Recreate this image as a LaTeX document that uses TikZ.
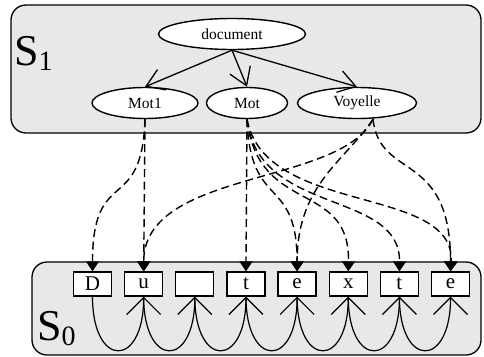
\documentclass[tikz,border=0pt]{standalone}
\usepackage{fontspec}
\setmainfont{Liberation Serif}
\usetikzlibrary{arrows.meta, shapes.geometric}
\definecolor{bg}{HTML}{E8E8E8}
\begin{document}
\begin{tikzpicture}[x=1pt,y=-1pt,
  grp/.style={draw=black, line width=1.3pt, fill=bg, rounded corners=15pt},
  ell/.style={ellipse, draw, line width=1.4pt, fill=white, minimum height=31pt, inner sep=0pt, font=\fontsize{15.5}{18}\selectfont},
  cell/.style={rectangle, draw, line width=1.3pt, fill=white, minimum width=38pt, minimum height=24pt, inner sep=0pt, font=\fontsize{21}{24}\selectfont},
  tree/.style={line width=1.3pt, -{Straight Barb[length=17pt,width=22pt,line width=1.3pt]}},
  link/.style={line width=1.4pt, dash pattern=on 8pt off 4.5pt, -{Triangle[length=10pt,width=13pt]}},
  nxt/.style={line width=1.2pt, -{Straight Barb[length=17pt,width=34pt,line width=1.2pt]}},
  lbl/.style={inner sep=0pt, anchor=base west}
]
\useasboundingbox (0,0) rectangle (484,356);
\draw[grp] (11,5) rectangle (481,133);
\draw[grp] (32,262) rectangle (481,355);

\node[lbl] (s1) at (14,65) {\fontsize{44}{44}\selectfont S\raisebox{-5pt}{\fontsize{28}{28}\selectfont 1}};
\node[lbl] (s0) at (37,340) {\fontsize{44}{44}\selectfont S\raisebox{-5pt}{\fontsize{28}{28}\selectfont 0}};

\node[ell, minimum width=147pt] (doc) at (232,34) {document};
\node[ell, minimum width=106pt] (mot1) at (145,103) {Mot1};
\node[ell, minimum width=81pt] (mot) at (247,103) {Mot};
\node[ell, minimum width=119pt] (voy) at (357,103) {Voyelle};

\foreach \t [count=\i from 0] in {D,u,{},t,e,x,t,e} {
  \node[cell] (c\i) at (92.5+51.15*\i,284) {\t};
}

\draw[tree] (doc.south) -- (mot1.north);
\draw[tree] (doc.south) -- (mot.north);
\draw[tree] (doc.south) -- (voy.north);

\coordinate (vs) at ([xshift=16pt]voy.south);

\draw[link] (mot1.south) .. controls +(-3,97) and +(0,-107) .. (c0.north);
\draw[link] (mot1.south) -- (c1.north);
\draw[link] (mot.south) -- (c3.north);
\draw[link] (mot.south) .. controls +(3,92) and +(0,-97) .. (c4.north);
\draw[link] (mot.south) .. controls +(11,97) and +(2,-92) .. (c5.north);
\draw[link] (mot.south) .. controls +(11,97) and +(1,-82) .. (c6.north);
\draw[link] (mot.south) .. controls +(18,97) and +(5,-87) .. (c7.north);
\draw[link] (vs) .. controls +(-33,67) and +(0,-102) .. (c1.north);
\draw[link] (vs) .. controls +(-28,42) and +(0,-87) .. (c4.north);
\draw[link] (vs) .. controls +(7,62) and +(0,-122) .. (c7.north);

\foreach \a/\b in {0/1,1/2,2/3,3/4,4/5,5/6,6/7} {
  \draw[nxt] (c\a.south) .. controls +(0,72) and +(0,72) .. (c\b.south);
}
\end{tikzpicture}
\end{document}
